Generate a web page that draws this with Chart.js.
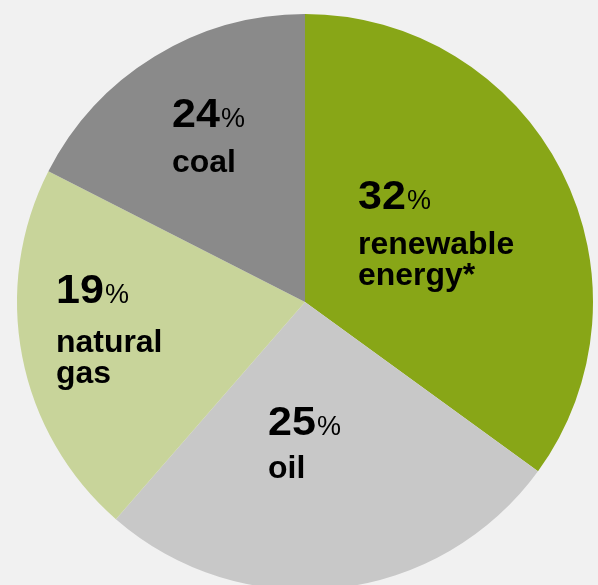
<!DOCTYPE html>
<html>
<head>
<meta charset="utf-8">
<script src="https://cdn.jsdelivr.net/npm/chart.js@4"></script>
<style>
  html, body { margin: 0; padding: 0; background: #f1f1f1; overflow: hidden; width: 598px; height: 585px; }
  canvas { display: block; }
</style>
</head>
<body>
<canvas id="c" width="610" height="604" style="width:610px;height:604px"></canvas>
<script>
// Slice sizes as drawn in the picture (angles measured), in display order clockwise from top
const categories = ["renewable energy*", "oil", "natural gas", "coal"];
const sliceShares = [35.0, 26.4, 21.1, 17.5];
// Percentages printed on the chart
const labelPercents = ["32", "25", "19", "24"];
const labelLines = [["renewable", "energy*"], ["oil"], ["natural", "gas"], ["coal"]];
const colors = ["#88a617", "#c8c8c8", "#c8d49a", "#8a8a8a"];

// label anchor offsets from pie centre (left x, number baseline y), in pixels
const labelOffsets = [[53, -93], [-37, 133], [-249, 1], [-133, -175]];
const numberGaps = [45, 43, 49, 45];

function drawScaled(ctx, text, x, y, s) {
  ctx.save();
  ctx.translate(x, y);
  ctx.scale(s, 1);
  ctx.fillText(text, 0, 0);
  ctx.restore();
  return ctx.measureText(text).width * s;
}

const labelPlugin = {
  id: 'sliceLabels',
  afterDatasetsDraw(chart) {
    const ctx = chart.ctx;
    const arc = chart.getDatasetMeta(0).data[0];
    const cx = arc.x, cy = arc.y;
    ctx.save();
    ctx.fillStyle = '#000';
    ctx.textBaseline = 'alphabetic';
    ctx.textAlign = 'left';
    labelPercents.forEach((p, i) => {
      const x = cx + labelOffsets[i][0];
      const y = cy + labelOffsets[i][1];
      ctx.font = 'bold 41px "Liberation Sans", Arial, sans-serif';
      const w = drawScaled(ctx, p, x, y, 1.05);
      ctx.font = '27px "Liberation Sans", Arial, sans-serif';
      drawScaled(ctx, '%', x + w + 1, y, 1.0);
      ctx.font = 'bold 31px "Liberation Sans", Arial, sans-serif';
      labelLines[i].forEach((line, j) => {
        drawScaled(ctx, line, x, y + numberGaps[i] + j * 31, 1.03);
      });
    });
    ctx.restore();
  }
};

new Chart(document.getElementById('c'), {
  type: 'pie',
  data: {
    labels: categories,
    datasets: [{
      data: sliceShares,
      backgroundColor: colors,
      borderWidth: 0
    }]
  },
  options: {
    responsive: false,
    animation: false,
    layout: { padding: { left: 17, right: 17, top: 14, bottom: 14 } },
    plugins: { legend: { display: false }, tooltip: { enabled: false } }
  },
  plugins: [labelPlugin]
});
</script>
</body>
</html>
